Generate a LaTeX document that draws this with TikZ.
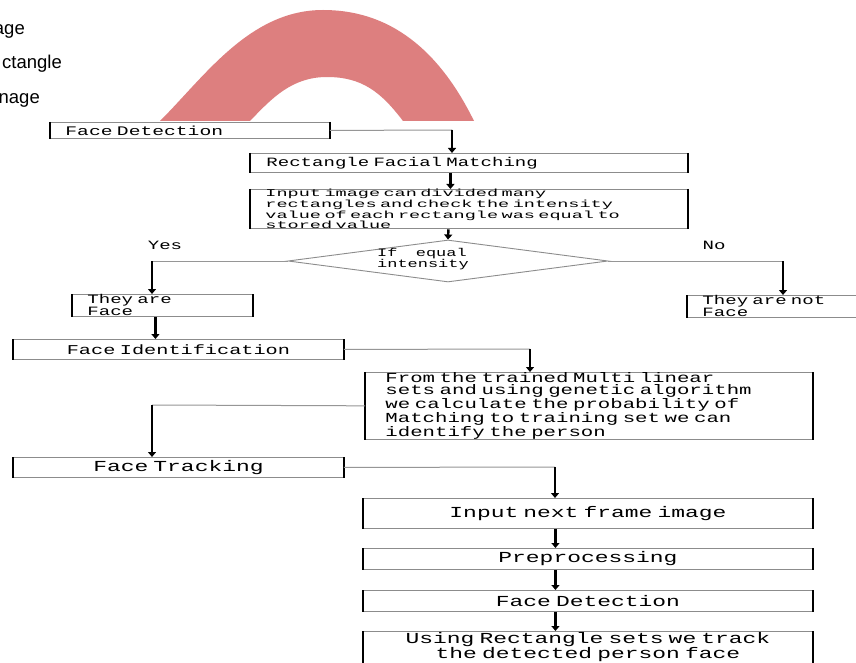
\documentclass[tikz,border=0pt]{standalone}
\usepackage{fontspec}
\setmainfont{Liberation Serif}
\setsansfont{Liberation Sans}
\newfontfamily\flowfont[FakeStretch=1.5,WordSpace=1.8]{Liberation Mono}
\newfontfamily\flowwide[FakeStretch=1.8,WordSpace=2]{Liberation Mono}
\usetikzlibrary{shapes.geometric,arrows.meta}
\definecolor{arcred}{RGB}{221,127,127}
\definecolor{boxgray}{RGB}{140,140,140}
\definecolor{linegray}{RGB}{150,150,150}
\newcommand{\fsmall}{\flowfont\fontsize{12.7}{9.5}\selectfont}
\newcommand{\fdense}{\flowwide\fontsize{10.3}{9}\selectfont}
\newcommand{\fdia}{\flowfont\fontsize{11.3}{8.5}\selectfont}
\newcommand{\fmid}{\flowfont\fontsize{13.8}{12.3}\selectfont}
\newcommand{\fbig}{\flowfont\fontsize{15.3}{12.5}\selectfont}
\begin{document}
\begin{tikzpicture}[x=1pt,y=-1pt,
  flowbox/.style={draw=boxgray, line width=0.9pt, anchor=north west, inner ysep=0pt},
  leftbox/.style={flowbox, align=left},
  midbox/.style={flowbox, align=center, inner xsep=0pt},
  side/.style={line width=1.8pt, black},
  hline/.style={line width=1pt, linegray},
  arr/.style={line width=2.4pt, black, -{Triangle[width=8pt,length=5pt]}},
  toplabel/.style={anchor=base east, inner sep=0pt, font=\sffamily\fontsize{18.5}{18.5}\selectfont}]
\useasboundingbox (0,0) rectangle (856,663);
\fill[white] (0,0) rectangle (856,663);

% cropped labels at top left
\node[toplabel] (la) at (25,35) {age};
\node[toplabel] (lb) at (62,69) {ctangle};
\node[toplabel] (lc) at (40,104) {nage};

% red arc band
\fill[arcred] (160,121) .. controls (205,76) and (250,10) .. (323,10)
  .. controls (398,10) and (444,60) .. (474,121) -- (403,121)
  .. controls (381,92) and (362,77) .. (327,77)
  .. controls (292,77) and (272,98) .. (250,121) -- cycle;

% boxes
\node[leftbox, font=\flowfont\fontsize{13.1}{13.1}\selectfont, minimum height=16pt, inner xsep=15pt, text width=249pt] (fdA) at (50,122) {Face Detection};
\node[leftbox, font=\fsmall, minimum height=19pt, inner xsep=16pt, text width=405pt] (rfm) at (250,153) {Rectangle Facial Matching};
\node[leftbox, font=\fdense, minimum height=39pt, inner xsep=15pt, text width=407pt] (inp) at (250,189) {Input image can divided many\\rectangles and check the intensity\\value of each rectangle was equal to\\stored value};
\node[draw=boxgray, line width=0.9pt, shape=diamond, minimum width=320pt, minimum height=42pt, inner sep=0pt] (dia) at (448,261) {};
\node[anchor=west, align=left, inner sep=0pt, font=\fdia] (dtx) at (377,259) {If equal\\intensity};
\node[inner sep=0pt, font=\fsmall] (yes) at (165,245) {Yes};
\node[inner sep=0pt, font=\fsmall] (no) at (714,245) {No};
\node[leftbox, font=\fsmall, minimum height=22pt, inner xsep=15pt, text width=150pt] (tf) at (72,294) {They are\\Face};
\node[leftbox, font=\fsmall, minimum height=22pt, inner xsep=15pt, text width=160pt] (tnf) at (687,295) {They are not\\Face};
\node[midbox, font=\flowfont\fontsize{13.5}{13.5}\selectfont, minimum height=20pt, text width=330pt] (fi) at (13,339) {Face Identification};
\node[leftbox, font=\fmid, minimum height=65pt, inner xsep=20pt, text width=407pt] (ftr) at (365,372) {From the trained Multi linear\\sets and using genetic algorithm\\we calculate the probability of\\Matching to training set we can\\identify the person};
\node[midbox, font=\fbig, minimum height=20pt, text width=330pt] (ft) at (13,457) {Face Tracking};
\node[midbox, font=\fbig, minimum height=30pt, text width=449pt] (inx) at (363,498) {Input next frame image};
\node[midbox, font=\fbig, minimum height=21pt, text width=449pt] (pre) at (363,548) {Preprocessing};
\node[midbox, font=\fbig, minimum height=21pt, text width=449pt] (fdB) at (363,590) {Face Detection};
\node[midbox, font=\fbig, inner ysep=0.5pt, text width=449pt] (urs) at (363,631) {Using Rectangle sets we track\\the detected person face\rule[-22pt]{0pt}{0pt}};

% thick side edges
\foreach \n in {fdA,rfm,inp,tf,tnf,fi,ftr,ft,inx,pre,fdB,urs}{
  \draw[side] (\n.north west) -- (\n.south west) (\n.north east) -- (\n.south east);
}

% connectors
\coordinate (k1) at (452,130);
\draw[hline] (fdA.east) -- (k1);
\draw[arr] (k1) -- (k1 |- rfm.north);
\draw[arr] ([xshift=-18.5pt]rfm.south) -- ([xshift=-18.5pt]inp.north);
\draw[arr] ([xshift=-20.5pt]inp.south) -- (dia.north);
\coordinate (k2) at (152,261);
\draw[hline] (dia.west) -- (k2);
\draw[arr] (k2) -- (k2 |- tf.north);
\coordinate (k3) at (783,261);
\draw[hline] (dia.east) -- (k3);
\draw[arr] (k3) -- (k3 |- tnf.north);
\draw[arr] ([xshift=-7pt]tf.south) -- ([xshift=-7pt]tf.south |- fi.north);
\coordinate (k5) at (530,349);
\draw[hline] (fi.east) -- (k5);
\draw[arr] (k5) -- (k5 |- ftr.north);
\coordinate (k6) at (152,405);
\draw[hline] (ftr.west) -- (k6);
\draw[arr] (k6) -- (k6 |- ft.north);
\coordinate (k7) at (555,467);
\draw[hline] (ft.east) -- (k7);
\draw[arr] (k7) -- (k7 |- inx.north);
\draw[arr] ([xshift=-32.5pt]inx.south) -- ([xshift=-32.5pt]pre.north);
\draw[arr] ([xshift=-32.5pt]pre.south) -- ([xshift=-32.5pt]fdB.north);
\draw[arr] ([xshift=-32.5pt]fdB.south) -- ([xshift=-32.5pt]urs.north);
\end{tikzpicture}
\end{document}
